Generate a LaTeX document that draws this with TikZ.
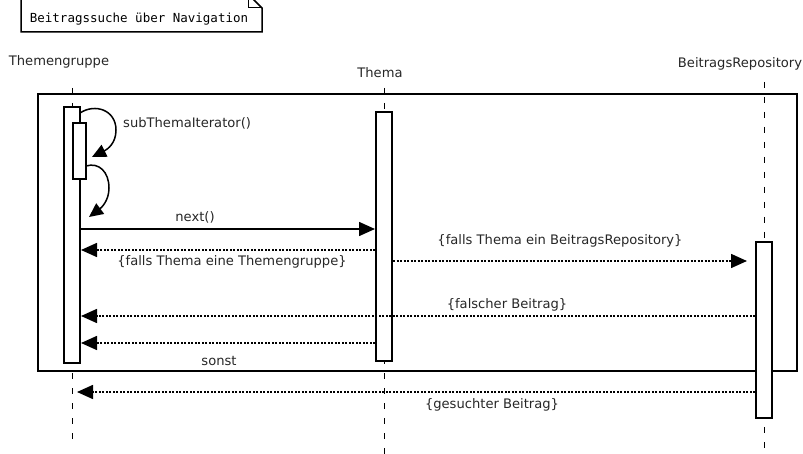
\documentclass[tikz,border=0pt]{standalone}
\usepackage{fontspec}
\setmainfont{DejaVu Sans}
\setmonofont{DejaVu Sans Mono}
\usetikzlibrary{arrows.meta}

\begin{document}
\begin{tikzpicture}
    [
    x=1pt, y=-1pt,
    every node/.style={font=\fontsize{13.1}{15}\selectfont, text=black!85, inner sep=0pt},
    notetext/.style={font=\ttfamily\fontsize{12.5}{14}\selectfont, text=black},
    activation/.style={draw, fill=white, line width=2pt, minimum width=16pt},
    lifeline/.style={line width=1pt, dash pattern=on 6pt off 9pt},
    frame/.style={line width=2pt},
    call/.style={line width=1.5pt, -{Triangle[length=16pt, width=14pt]}},
    reply/.style={line width=1.6pt, dash pattern=on 2pt off 1.5pt, -{Triangle[length=16pt, width=14pt]}},
    selfcall/.style={line width=1.5pt, -{Triangle[length=14pt, width=13pt]}},
    ]

    \useasboundingbox (0,0) rectangle (803,454);

    % note
    \node[notetext] (note) at (139,19) {Beitragssuche über Navigation};
    \draw[line width=1.5pt] (21,-6) -- (248,-6) -- (262,8) -- (262,32) -- (21,32) -- cycle;
    \draw[line width=1pt] (248,-6) -- (248,8) -- (262,8);

    % objects
    \node (head_tg) at (59,62) {Themengruppe};
    \node (head_thema) at (380,73) {Thema};
    \node (head_repo) at (740,64) {BeitragsRepository};

    \coordinate (tg_top) at (72,88);
    \coordinate (tg_end) at (72,440);
    \coordinate (thema_top) at (384,88);
    \coordinate (thema_end) at (384,454);
    \coordinate (repo_top) at (764,82);
    \coordinate (repo_end) at (764,454);

    \draw[lifeline] (tg_top) -- (tg_end);
    \draw[lifeline] (thema_top) -- (thema_end);
    \draw[lifeline] (repo_top) -- (repo_end);

    \draw[frame] (38,94) rectangle (797,371);

    \node[activation, minimum height=256pt] (act_tg) at (72,235) {};
    \node[activation, minimum width=13pt, minimum height=56pt] (act_inner) at (79.5,151) {};
    \node[activation, minimum height=249pt] (act_thema) at (384,236.5) {};
    \node[activation, minimum height=176pt] (act_repo) at (764,330) {};

    % message rows
    \coordinate (row_next) at (0,229);
    \coordinate (row_tg) at (0,250);
    \coordinate (row_repo) at (0,261);
    \coordinate (row_false) at (0,316);
    \coordinate (row_back) at (0,343);
    \coordinate (row_found) at (0,392);
    \coordinate (loop_a) at (80,113);
    \coordinate (loop_a_end) at (92,157);
    \coordinate (loop_b) at (86,166);
    \coordinate (loop_b_end) at (89,217);

    \draw[selfcall] (loop_a) .. controls (95,103) and (116,110) .. (116,130)
        .. controls (116,143) and (108,149) .. (loop_a_end);
    \draw[selfcall] (loop_b) .. controls (99,162) and (109,172) .. (109,188)
        .. controls (109,201) and (101,208) .. (loop_b_end);

    \draw[call] (act_tg.east |- row_next) -- (act_thema.west |- row_next);
    \draw[reply] (act_thema.west |- row_tg) -- (act_tg.east |- row_tg);
    \draw[reply, shorten >=8pt] (act_thema.east |- row_repo) -- (act_repo.west |- row_repo);
    \draw[reply] (act_repo.west |- row_false) -- (act_tg.east |- row_false);
    \draw[reply] (act_thema.west |- row_back) -- (act_tg.east |- row_back);
    \draw[reply, shorten >=5pt] (act_repo.west |- row_found) -- (tg_end |- row_found);

    % labels
    \node[anchor=west] (lbl_iter) at (123,123) {subThemaIterator()};
    \node (lbl_next) at (195,217) {next()};
    \node (lbl_tg) at (232,262) {\{falls Thema eine Themengruppe\}};
    \node (lbl_repo) at (560,241) {\{falls Thema ein BeitragsRepository\}};
    \node (lbl_false) at (507,305) {\{falscher Beitrag\}};
    \node (lbl_else) at (219,361) {sonst};
    \node (lbl_found) at (492,405) {\{gesuchter Beitrag\}};
\end{tikzpicture}
\end{document}
